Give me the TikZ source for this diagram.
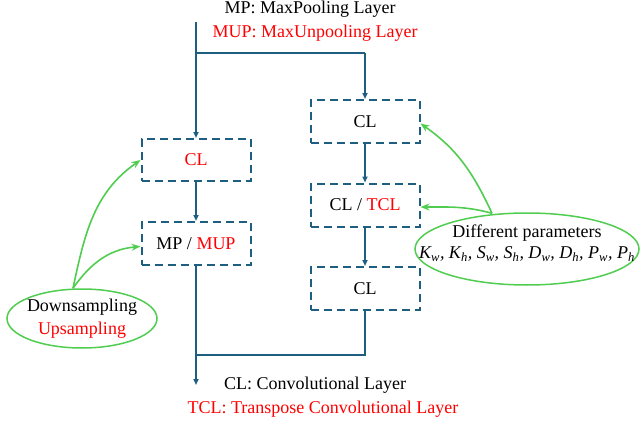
\documentclass[tikz,border=0pt]{standalone}
\usepackage{fontspec}
\setmainfont{Liberation Serif}
\usetikzlibrary{arrows.meta,shapes.geometric}
\definecolor{cblue}{RGB}{30,94,128}
\definecolor{cgreen}{RGB}{80,205,80}
\definecolor{cred}{RGB}{255,0,0}
\tikzset{
  txt/.style={font=\fontsize{18pt}{22pt}\selectfont, inner sep=0pt, align=center},
  dbox/.style={txt, draw=cblue, line width=2pt, dash pattern=on 8pt off 5pt, minimum width=109pt, minimum height=42pt},
  flow/.style={draw=cblue, line width=2pt, -{Triangle[length=6pt,width=5pt]}},
  flowline/.style={draw=cblue, line width=2pt},
  gell/.style={draw=cgreen, line width=1.5pt, ellipse, inner sep=0pt},
  garrow/.style={draw=cgreen, line width=1.6pt, -{Stealth[length=9pt,width=7pt]}}
}
\begin{document}
\begin{tikzpicture}[x=1pt,y=-1pt]
\useasboundingbox (0,0) rectangle (641,423);
% title texts
\node[txt] (t1) at (310,9) {MP: MaxPooling Layer};
\node[txt, text=cred] (t2) at (315,33) {MUP: MaxUnpooling Layer};
\node[txt] (b1) at (315,385) {CL: Convolutional Layer};
\node[txt, text=cred] (b2) at (323,409) {TCL: Transpose Convolutional Layer};
% boxes
\node[dbox] (cl1) at (196,160) {\textcolor{cred}{CL}};
\node[dbox, minimum height=43pt] (mp) at (196,243.5) {MP / \textcolor{cred}{MUP}};
\node[dbox, minimum height=43pt] (r1) at (365,121.5) {CL};
\node[dbox, minimum height=43pt] (r2) at (365,205) {CL / \textcolor{cred}{TCL}};
\node[dbox, minimum height=43pt] (r3) at (365,288.5) {CL};
% coordinates
\coordinate (top) at (196,22);
\coordinate (split) at (196,53);
\coordinate (splitr) at (365,53);
\coordinate (join) at (196,355);
\coordinate (joinr) at (365,355);
\coordinate (bot) at (196,385);
% flow
\draw[flow] (top) -- (cl1.north);
\draw[flowline] (split) -- (splitr);
\draw[flow] (splitr) -- (r1.north);
\draw[flow] (cl1.south) -- (mp.north);
\draw[flow] (r1.south) -- (r2.north);
\draw[flow] (r2.south) -- (r3.north);
\draw[flow] (mp.south) -- (bot);
\draw[flowline] (r3.south) -- (joinr) -- (join);
% ellipses
\node[gell, minimum width=150pt, minimum height=59pt] (ds) at (82,318.5) {};
\node[txt] (dstext) at (82,319) {Downsampling\\[1pt]\textcolor{cred}{Upsampling}};
\node[gell, minimum width=224pt, minimum height=72pt] (dp) at (527,249) {};
\node[txt] (dptext) at (527,243) {Different parameters\\[-1pt]\itshape K\textsubscript{w}, K\textsubscript{h}, S\textsubscript{w}, S\textsubscript{h}, D\textsubscript{w}, D\textsubscript{h}, P\textsubscript{w}, P\textsubscript{h}};
% green arrows
\draw[garrow] (ds.north) ++(-9,0) to[out=78,in=215] (cl1.west);
\draw[garrow] (ds.north) ++(-9,0) to[out=55,in=185] ([yshift=-3pt]mp.west);
\draw[garrow] (dp.north) ++(-35,1) to[out=115,in=-35] ([yshift=-2pt]r1.east);
\draw[garrow] (dp.north) ++(-35,1) to[out=165,in=0] ([yshift=-2pt]r2.east);
\end{tikzpicture}
\end{document}
